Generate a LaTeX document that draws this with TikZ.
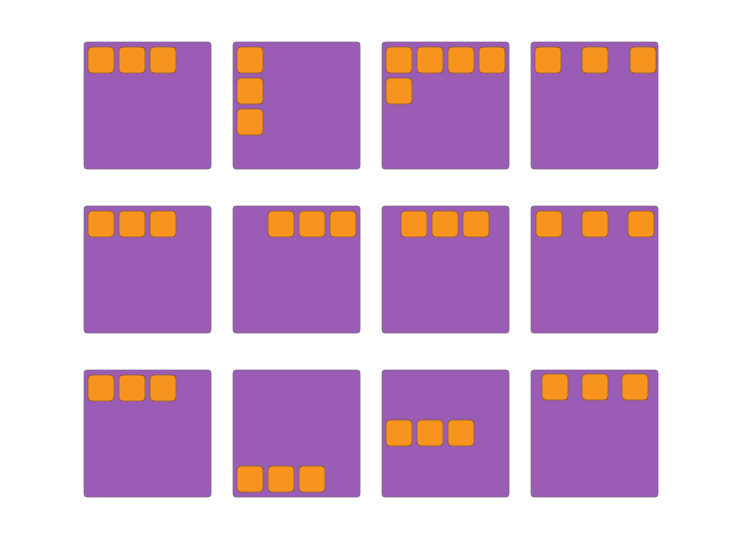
\documentclass[tikz,border=0pt]{standalone}
\definecolor{boxpurple}{HTML}{9A5CB4}
\definecolor{boxedge}{HTML}{7E6A8A}
\definecolor{itemorange}{HTML}{F7941E}
\definecolor{itemedge}{HTML}{8A5A3A}
\tikzset{
  container/.style={fill=boxpurple, draw=boxedge, line width=0.8pt, rounded corners=3pt},
  item/.style={fill=itemorange, draw=itemedge, line width=0.8pt, rounded corners=3.5pt}
}
\newcommand\cbox[2]{\path[container] (#1,#2) rectangle ++(127,127);}
\newcommand\fsq[2]{\path[item] (#1,#2) rectangle ++(26,26);}
\begin{document}
\begin{tikzpicture}[x=1pt,y=-1pt]
\useasboundingbox (0,0) rectangle (750,541);
\foreach \cx in {84,233,382,531}{\foreach \cy in {42,206,370}{\cbox{\cx}{\cy}}}
% row 1
\foreach \p in {88,119,150}{\fsq{\p}{47}}
\foreach \p in {47,78,109}{\fsq{237}{\p}}
\foreach \p in {386,417,448,479}{\fsq{\p}{47}}
\fsq{386}{78}
\foreach \p in {535,582,630}{\fsq{\p}{47}}
% row 2
\foreach \p in {88,119,150}{\fsq{\p}{211}}
\foreach \p in {268,299,330}{\fsq{\p}{211}}
\foreach \p in {401,432,463}{\fsq{\p}{211}}
\foreach \p in {536,582,628}{\fsq{\p}{211}}
% row 3
\foreach \p in {88,119,150}{\fsq{\p}{375}}
\foreach \p in {237,268,299}{\fsq{\p}{466}}
\foreach \p in {386,417,448}{\fsq{\p}{420}}
\foreach \p in {542,582,622}{\fsq{\p}{374}}
\end{tikzpicture}
\end{document}
